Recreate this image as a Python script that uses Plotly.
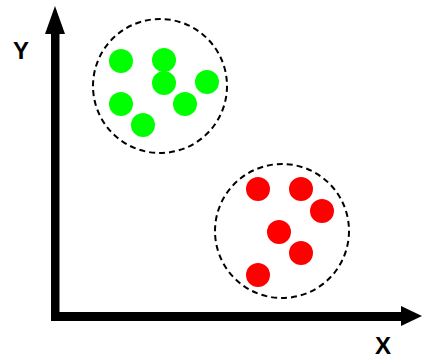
import plotly.graph_objects as go

# cluster members (data units, origin at the axes corner)
green_x = [66, 109, 109, 152, 66, 130, 88]
green_y = [255, 256, 233, 234, 212, 212, 191]
red_x = [203, 246, 267, 224, 246, 203]
red_y = [127, 127, 105, 84, 63, 41]

# dashed cluster boundaries: centre x, centre y, radius
cluster_cx = [105, 227]
cluster_cy = [230, 85]
cluster_r = [67, 67]

axis_labels = ["X", "Y"]


def main():
    fig = go.Figure()

    fig.add_trace(go.Scatter(
        x=green_x, y=green_y, mode="markers",
        marker=dict(size=24, color="#00ff00", line=dict(width=0)),
        hoverinfo="skip",
    ))
    fig.add_trace(go.Scatter(
        x=red_x, y=red_y, mode="markers",
        marker=dict(size=24, color="#ff0000", line=dict(width=0)),
        hoverinfo="skip",
    ))

    for cx, cy, r in zip(cluster_cx, cluster_cy, cluster_r):
        fig.add_shape(
            type="circle", xref="x", yref="y",
            x0=cx - r, x1=cx + r, y0=cy - r, y1=cy + r,
            line=dict(color="black", width=2, dash="6px,4px"),
            layer="below",
        )

    # axis shafts
    fig.add_shape(type="rect", x0=-4, x1=4.5, y0=-5, y1=284,
                  fillcolor="black", line=dict(width=0))
    fig.add_shape(type="rect", x0=-4, x1=348, y0=-5, y1=4,
                  fillcolor="black", line=dict(width=0))
    # arrowheads
    fig.add_shape(type="path", path="M -10,282 L 0,310 L 10,282 Z",
                  fillcolor="black", line=dict(width=0))
    fig.add_shape(type="path", path="M 346,-10 L 367,0 L 346,10 Z",
                  fillcolor="black", line=dict(width=0))

    label_font = dict(family="Liberation Sans, Arial", size=24, color="black")
    fig.add_annotation(x=328, y=-29, text="<b>%s</b>" % axis_labels[0],
                       showarrow=False, font=label_font)
    fig.add_annotation(x=-34, y=266, text="<b>%s</b>" % axis_labels[1],
                       showarrow=False, font=label_font)

    fig.update_xaxes(range=[-55, 367], visible=False)
    fig.update_yaxes(range=[-44, 316], visible=False)
    fig.update_layout(
        width=422, height=360,
        margin=dict(l=0, r=0, t=0, b=0),
        paper_bgcolor="white", plot_bgcolor="white",
        showlegend=False,
    )

    # drop the browser's default body margin so the figure fills the window
    fig.write_html(
        "out.html",
        config={"displayModeBar": False},
        post_script="document.body.style.margin='0';"
                    "document.body.style.overflow='hidden';",
    )


if __name__ == "__main__":
    main()
